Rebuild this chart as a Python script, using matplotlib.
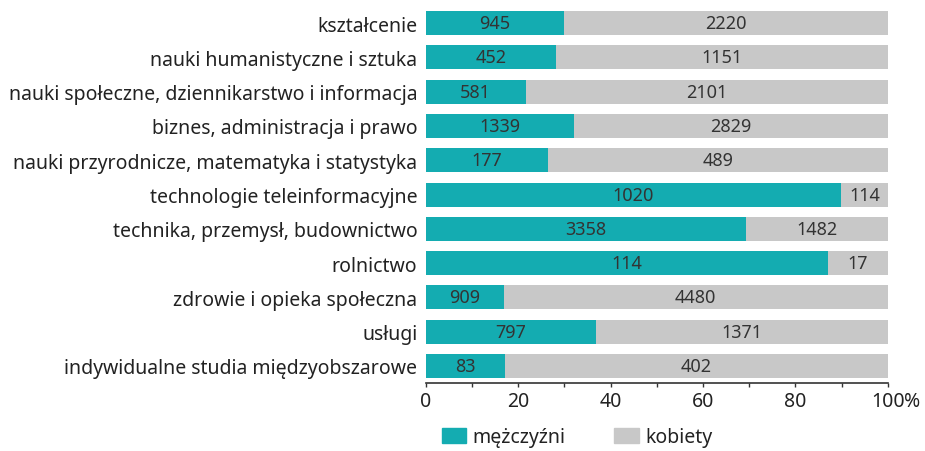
import matplotlib.pyplot as plt
import numpy as np
from matplotlib.patches import Patch

plt.rcParams['font.family'] = ['Noto Sans', 'DejaVu Sans']

# dziedziny kształcenia
kategorie = [
    'kształcenie',
    'nauki humanistyczne i sztuka',
    'nauki społeczne, dziennikarstwo i informacja',
    'biznes, administracja i prawo',
    'nauki przyrodnicze, matematyka i statystyka',
    'technologie teleinformacyjne',
    'technika, przemysł, budownictwo',
    'rolnictwo',
    'zdrowie i opieka społeczna',
    'usługi',
    'indywidualne studia międzyobszarowe',
]
mezczyzni = [945, 452, 581, 1339, 177, 1020, 3358, 114, 909, 797, 83]
kobiety = [2220, 1151, 2101, 2829, 489, 114, 1482, 17, 4480, 1371, 402]

kolor_m = '#14acb1'
kolor_k = '#c8c8c8'
kolor_txt = '#222222'

m = np.array(mezczyzni, dtype=float)
k = np.array(kobiety, dtype=float)
suma = m + k
proc_m = m / suma * 100
proc_k = k / suma * 100
y = np.arange(len(kategorie))

fig = plt.figure(figsize=(9.25, 4.52), dpi=100)
ax = fig.add_axes([0.4602, 0.1504, 0.4995, 0.834])

ax.barh(y, proc_m, height=0.7, color=kolor_m)
ax.barh(y, proc_k, left=proc_m, height=0.7, color=kolor_k)

# wartości liczbowe na środku segmentów
for i in range(len(kategorie)):
    ax.text(proc_m[i] / 2, y[i], str(mezczyzni[i]), ha='center', va='center',
            fontsize=13, color='#333333')
    ax.text(proc_m[i] + proc_k[i] / 2, y[i], str(kobiety[i]), ha='center', va='center',
            fontsize=13, color='#333333')

ax.set_yticks(y)
ax.set_yticklabels(kategorie, fontsize=14, color=kolor_txt)
ax.set_ylim(len(kategorie) - 0.5, -0.5)
ax.set_xlim(0, 100)
ax.set_xticks([0, 20, 40, 60, 80, 100])
ax.set_xticklabels(['0', '20', '40', '60', '80', '100'], fontsize=14, color=kolor_txt)
ax.set_xticks([10, 30, 50, 70, 90], minor=True)
ax.tick_params(axis='y', length=0, pad=6)
ax.tick_params(axis='x', which='both', length=3, width=1, color='#333333', pad=3)

# znak % doklejony za etykietą 100
ax.annotate('%', xy=(100, 0), xycoords=('data', 'axes fraction'),
            xytext=(12, -6), textcoords='offset points', ha='left', va='top',
            fontsize=14, color=kolor_txt)

for s in ['top', 'right', 'left']:
    ax.spines[s].set_visible(False)
ax.spines['bottom'].set_color('#333333')
ax.spines['bottom'].set_linewidth(1.2)

uchwyty = [Patch(color=kolor_m, label='mężczyźni'), Patch(color=kolor_k, label='kobiety')]
leg = fig.legend(handles=uchwyty, loc='center', bbox_to_anchor=(0.624, 0.03), ncol=2,
                 frameon=False, fontsize=14, handlelength=1.24, handleheight=0.77,
                 columnspacing=2.5, handletextpad=0.36)
for t in leg.get_texts():
    t.set_color(kolor_txt)

fig.savefig('out.png', dpi=100)
